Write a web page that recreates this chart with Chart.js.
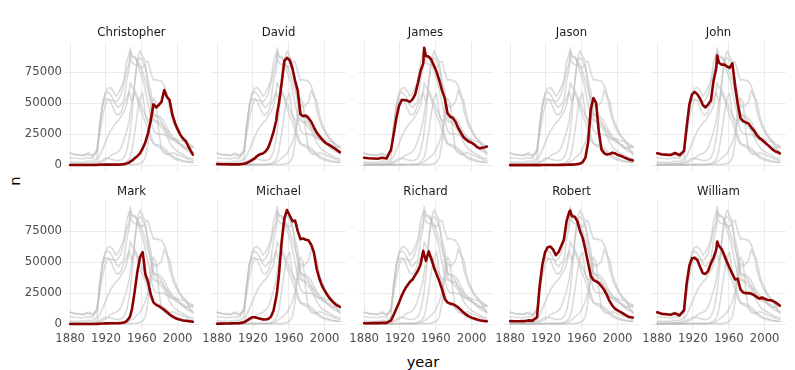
<!DOCTYPE html>
<html><head><meta charset="utf-8">
<script src="https://cdn.jsdelivr.net/npm/chart.js@4.4.1/dist/chart.umd.min.js"></script>
<style>
html,body{margin:0;padding:0;background:#fff;}
body{width:795px;height:370px;position:relative;overflow:hidden;font-family:"DejaVu Sans",sans-serif;}
canvas{position:absolute;}
.lab{position:absolute;color:#000;font-size:14.6px;font-family:"DejaVu Sans",sans-serif;white-space:nowrap;transform:translate(-50%,-50%);}
</style></head><body>
<div id="xt" class="lab" style="left:423px;top:361px;">year</div>
<div id="yt" class="lab" style="left:14px;top:181px;transform:translate(-50%,-50%) rotate(-90deg);">n</div>
<script>
const years = [1880,1885,1890,1895,1900,1905,1910,1913,1916,1919,1922,1925,1928,1931,1934,1937,1940,1943,1946,1947,1949,1952,1955,1958,1961,1964,1967,1970,1973,1976,1979,1982,1985,1988,1991,1994,1997,2000,2003,2006,2009,2012,2015,2017];
const names = ["Christopher","David","James","Jason","John","Mark","Michael","Richard","Robert","William"];
const Christopher = [100,80,90,90,120,110,180,280,400,450,450,450,430,400,420,480,800,1400,2200,2800,3600,5500,7200,9500,13500,18500,26000,36000,49000,46500,48500,51000,60500,55000,52500,41000,34000,29000,24500,21500,19500,15000,11000,8500];
const David = [870,750,700,650,750,650,1100,1700,2800,4000,5500,7500,8800,9400,11000,14000,20000,27000,36000,42000,50000,66000,84000,86500,84500,78000,68000,60000,41000,39500,40000,38000,35000,30500,26500,23500,21000,18500,17000,16000,14500,13000,11500,10500];
const James = [5900,5500,5300,5100,6000,5300,12500,25000,38000,48000,52500,52500,52000,51000,53000,57000,66000,76000,82000,94500,88000,87500,85000,80000,75000,68000,60000,54000,42000,39000,38000,35000,30000,26000,22500,20500,19000,18000,16500,14500,13500,14000,14500,15000];
const Jason = [10,10,10,10,15,15,30,40,70,80,90,100,110,120,150,180,250,330,400,400,430,550,800,1300,2500,6000,18000,45000,54000,50000,27000,12500,9500,8500,9000,10000,9500,8300,7500,6700,5700,4800,4200,3800];
const John = [9600,8700,8500,8200,9800,8000,11500,31000,49000,57000,59000,57000,53500,48500,46500,49000,52000,68000,78000,88300,82500,81000,81000,79500,78500,82000,64000,49000,38000,35500,34500,33500,30500,28000,24500,22000,20500,18500,16500,14500,12500,11000,10300,9500];
const Mark = [150,150,140,130,170,160,230,350,500,600,650,700,750,750,800,900,1300,2500,5000,6500,12000,26000,42000,54000,58000,40000,34000,24000,17500,15500,14500,13000,11500,9800,7800,6200,5000,4200,3500,3000,2700,2400,2100,1900];
const Michael = [350,450,550,600,750,800,1500,2800,4200,5500,5600,5000,4400,3800,3700,4200,6000,11000,22000,27000,40000,66000,85000,92000,87500,83000,83500,75000,68500,69000,68000,67500,64000,58000,45000,37000,31000,27000,23500,20500,18000,16000,14800,13800];
const Richard = [730,750,800,800,1000,1000,3000,7500,12500,17500,23000,27500,31000,34000,36000,39500,43000,48000,59000,56000,51000,58500,52500,45500,40000,34500,28000,20500,17500,16500,16200,15000,13500,11500,9300,7600,6200,5200,4500,3800,3200,2800,2400,2300];
const Robert = [2400,2300,2300,2400,3000,2800,5500,31000,48000,58000,62000,62500,60000,55500,58000,63000,68000,83000,90500,91500,87000,86500,83000,75000,69500,60000,49500,39000,35500,34500,33000,30500,27500,23500,18500,15000,12500,11000,9800,8600,7200,6000,5500,5300];
const William = [9500,8300,8000,7600,8700,7000,11000,33000,47000,53000,53500,51500,46000,41000,40500,43000,49000,53500,60000,66500,63000,60500,55500,50000,45000,40500,36000,36500,28000,25500,25000,25000,24500,23500,22000,20500,21500,20500,19500,19200,18800,17500,16000,15000];
const xTicks = [1880,1920,1960,2000];
const yTicks = [0,25000,50000,75000];

const series = {Christopher, David, James, Jason, John, Mark, Michael, Richard, Robert, William};

// ranges with 5% expansion of the data range
const xMinD = Math.min(...years), xMaxD = Math.max(...years);
const allV = Object.values(series).flat();
const yMinD = 0, yMaxD = Math.max(...allV);
const xMin = xMinD - 0.05*(xMaxD-xMinD), xMax = xMaxD + 0.05*(xMaxD-xMinD);
const yMin = yMinD - 0.05*(yMaxD-yMinD), yMax = yMaxD + 0.05*(yMaxD-yMinD);

const FAMILY = '"DejaVu Sans", sans-serif';
const GREY = 'rgba(190,190,190,0.55)';
const RED = '#8B0000';
const PL0 = 64, PITCH = 146.8, PW = 135, PH = 129;
const PT = [42, 201];
const TITLEH = 16, XH = 26;
const YW = [45, 14, 14, 14, 14];

function pts(vals){ return years.map((yr,i)=>({x:yr, y:vals[i]})); }

names.forEach((name, idx) => {
  const row = Math.floor(idx/5), col = idx % 5;
  const plotL = Math.round(PL0 + col*PITCH);
  const yw = YW[col];
  const left = plotL - yw;
  const top = PT[row] - TITLEH;
  const w = PW + yw;
  const h = TITLEH + PH + (row === 1 ? XH : 0);
  const cv = document.createElement('canvas');
  cv.width = w; cv.height = h;
  cv.style.left = left + 'px'; cv.style.top = top + 'px';
  cv.style.width = w + 'px'; cv.style.height = h + 'px';
  document.body.appendChild(cv);
  const datasets = [{data: pts(series[name]), borderColor: RED, borderWidth: 2.6}];
  names.forEach(n => { if (n !== name) datasets.push({data: pts(series[n]), borderColor: GREY, borderWidth: 1.6}); });
  new Chart(cv, {
    type: 'line',
    data: {datasets},
    options: {
      responsive: false, animation: false, events: [],
      layout: {padding: 0},
      plugins: {
        legend: {display: false}, tooltip: {enabled: false},
        title: {display: true, text: name, fullSize: false, color: '#1a1a1a',
          font: {family: FAMILY, size: 11.7, weight: 'normal', lineHeight: 1.2},
          padding: {top: 0, bottom: 1.96}}
      },
      elements: {point: {radius: 0}, line: {tension: 0, borderJoinStyle: 'round', borderCapStyle: 'round'}},
      scales: {
        x: {type: 'linear', min: xMin, max: xMax,
          grid: {color: '#ebebeb', lineWidth: 1, drawTicks: false},
          border: {display: false},
          ticks: {display: row === 1, color: '#4d4d4d', font: {family: FAMILY, size: 11.7}, padding: 2,
            maxRotation: 0, autoSkip: false, callback: v => String(v)},
          afterBuildTicks: s => { s.ticks = xTicks.map(v => ({value: v})); },
          afterFit: s => { s.height = row === 1 ? XH : 0; s.paddingLeft = 0; s.paddingRight = 0; s.paddingTop = 0; s.paddingBottom = 0; }
        },
        y: {type: 'linear', min: yMin, max: yMax,
          grid: {color: '#ebebeb', lineWidth: 1, drawTicks: false},
          border: {display: false},
          ticks: {display: col === 0, color: '#4d4d4d', font: {family: FAMILY, size: 11.7}, padding: 2,
            autoSkip: false, callback: v => String(v)},
          afterBuildTicks: s => { s.ticks = yTicks.map(v => ({value: v})); },
          afterFit: s => { s.width = yw; s.paddingTop = 0; s.paddingBottom = 0; s.paddingLeft = 0; s.paddingRight = 0; }
        }
      }
    }
  });
});
</script>
</body></html>
